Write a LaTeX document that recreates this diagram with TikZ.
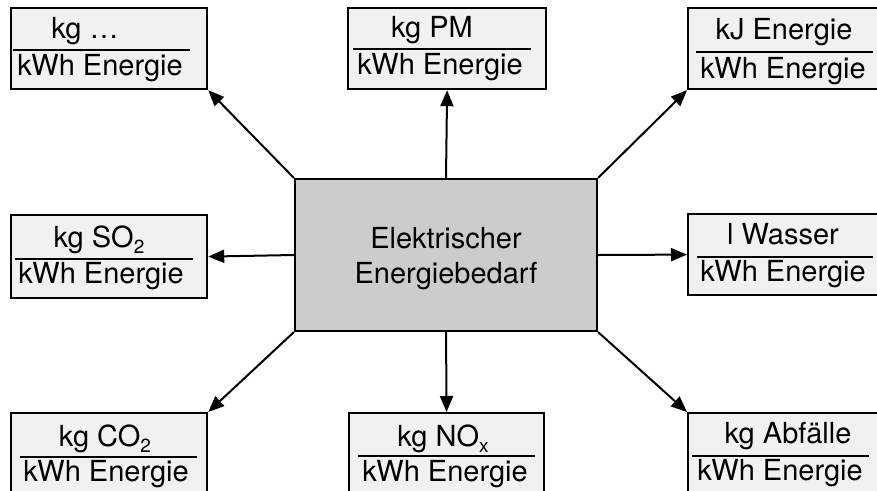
\documentclass[tikz,border=0pt]{standalone}
\usepackage{fontspec}
\setmainfont{TeX Gyre Heros}
\usetikzlibrary{arrows.meta}
\definecolor{boxfill}{HTML}{F1F1F1}
\definecolor{centerfill}{HTML}{CCCCCC}
\newcommand{\subtxt}[1]{\raisebox{-0.45ex}{\fontsize{19}{19}\selectfont #1}}
\begin{document}
\begin{tikzpicture}[x=1pt,y=-1pt,
  outbox/.style={draw, line width=2.2pt, fill=boxfill, anchor=north west, inner sep=0pt},
  txt/.style={anchor=base, inner sep=0pt, font=\fontsize{29}{35}\selectfont},
  fracline/.style={line width=2pt},
  arr/.style={line width=2pt, -{Triangle[length=16pt,width=13pt]}}]
\useasboundingbox (0,0) rectangle (877,490);
\clip (0,0) rectangle (877,490);
% outer boxes
\node[outbox, minimum width=196pt, minimum height=81pt] (tl) at (10,7) {};
\node[outbox, minimum width=198pt, minimum height=81pt] (tc) at (347,7) {};
\node[outbox, minimum width=220pt, minimum height=81pt] (tr) at (687,7) {};
\node[outbox, minimum width=196pt, minimum height=83pt] (ml) at (10,214) {};
\node[outbox, minimum width=220pt, minimum height=81pt] (mr) at (687,213) {};
\node[outbox, minimum width=196pt, minimum height=100pt] (bl) at (10,412) {};
\node[outbox, minimum width=195pt, minimum height=100pt] (bc) at (348,412) {};
\node[outbox, minimum width=220pt, minimum height=100pt] (br) at (687,412) {};
% center box
\node[draw, line width=2.2pt, fill=centerfill, minimum width=302pt, minimum height=152pt, inner sep=0pt] (c) at (446,255) {};
\node[txt] (c1) at (446,248) {Elektrischer};
\node[txt] (c2) at (446,283) {Energiebedarf};
% texts
\node[txt] (tln) at (85,38) {kg …};
\draw[fracline] (13,50) -- (190,50);
\node[txt] (tld) at (100,75) {kWh Energie};

\node[txt] (tcn) at (432,37) {kg PM};
\draw[fracline] (353,49) -- (531,49);
\node[txt] (tcd) at (440,74) {kWh Energie};

\node[txt] (trn) at (784,39) {kJ Energie};
\draw[fracline] (696,52) -- (873,52);
\node[txt] (trd) at (783,78) {kWh Energie};

\node[txt] (mln) at (99,247) {kg SO\subtxt{2}};
\draw[fracline] (15,259) -- (193,259);
\node[txt] (mld) at (101,283) {kWh Energie};

\node[txt] (mrn) at (783,244) {l Wasser};
\draw[fracline] (697,257) -- (873,257);
\node[txt] (mrd) at (783,281) {kWh Energie};

\node[txt] (bln) at (105,446) {kg CO\subtxt{2}};
\draw[fracline] (20,457) -- (197,457);
\node[txt] (bld) at (106,481) {kWh Energie};

\node[txt] (bcn) at (443,446) {kg NO\subtxt{x}};
\draw[fracline] (358,456) -- (535,456);
\node[txt] (bcd) at (445,481) {kWh Energie};

\node[txt] (brn) at (788,443) {kg Abfälle};
\draw[fracline] (692,456) -- (869,456);
\node[txt] (brd) at (780,480) {kWh Energie};
% arrows
\draw[arr] (c.north west) -- (tl.south east);
\draw[arr] (c.north) -- (tc.south);
\draw[arr] (c.north east) -- (tr.south west);
\draw[arr] (c.west) -- (ml.east);
\draw[arr] (c.east) -- (mr.west);
\draw[arr] (c.south west) -- (bl.north east);
\draw[arr] (c.south) -- (bc.north);
\draw[arr] (c.south east) -- (br.north west);
\end{tikzpicture}
\end{document}
